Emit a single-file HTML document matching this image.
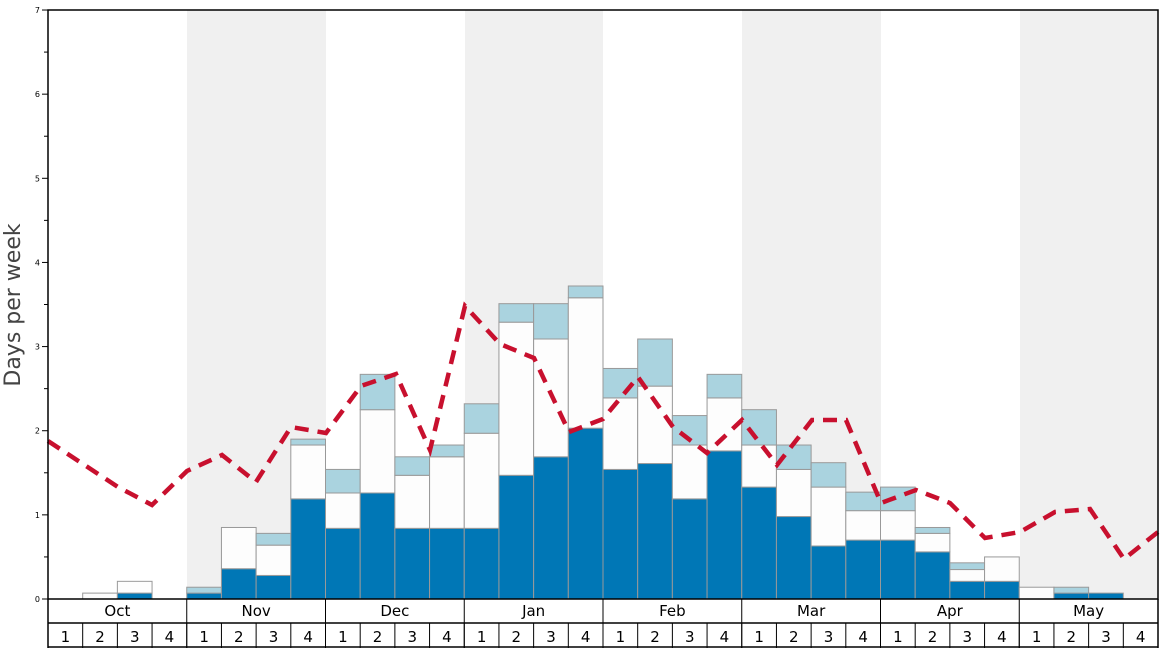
<!DOCTYPE html>
<html><head><meta charset="utf-8"><style>body{margin:0;background:#fff}svg{display:block}</style></head><body>
<svg width="1168" height="648" xmlns="http://www.w3.org/2000/svg" font-family="DejaVu Sans, Liberation Sans, sans-serif">
<rect width="1168" height="648" fill="#fff"/>
<g fill="#f0f0f0">
<rect x="187" y="10" width="139" height="589"/>
<rect x="465" y="10" width="138" height="589"/>
<rect x="742" y="10" width="139" height="589"/>
<rect x="1020" y="10" width="138" height="589"/>
</g>
<g id="bars" stroke="#999" stroke-width="1"></g>
<polyline fill="none" stroke="#c8102e" stroke-width="4.5" stroke-dasharray="14,9" points="48,441 83,464 118,487 152,505 187,471 222,455 256,482 291,427 326,433 361,386 396,374 430,450 465,306 500,344 534,358 569,432 603,419 638,377 673,427 707,453 742,420 777,465 812,420 846,420 881,503 916,490 950,503 985,538 1020,532 1055,512 1090,509 1124,559 1158,532"/>
<rect x="48" y="10" width="1110" height="589" fill="none" stroke="#000" stroke-width="1.5"/>
<g id="ticks" stroke="#000" stroke-width="1"></g>
<g id="tl" font-size="8" text-anchor="end"></g>
<text transform="translate(20,305) rotate(-90)" font-size="22" fill="#444" text-anchor="middle">Days per week</text>
<line x1="48" y1="599" x2="48" y2="648" stroke="#000" stroke-width="1.5"/>
<line x1="1158" y1="599" x2="1158" y2="648" stroke="#000" stroke-width="1.5"/>
<line x1="48" y1="623" x2="1158" y2="623" stroke="#000" stroke-width="1.5"/>
<line x1="48" y1="647" x2="1158" y2="647" stroke="#000" stroke-width="1.5"/>
<g id="axis"></g>
</svg>
<script>
const NS="http://www.w3.org/2000/svg";
function el(p,t,a,txt){const e=document.createElementNS(NS,t);for(const k in a)e.setAttribute(k,a[k]);if(txt!==undefined)e.textContent=txt;p.appendChild(e);return e;}
const X0=48,W=1110/32,Y0=599,S=84.14;
const d=[[0,0,0],[0,.07,0],[.07,.21,0],[0,0,0],[.07,0,.14],[.36,.85,0],[.28,.64,.78],[1.19,1.83,1.9],
[.84,1.26,1.54],[1.26,2.25,2.67],[.84,1.47,1.69],[.84,1.69,1.83],
[.84,1.97,2.32],[1.47,3.29,3.51],[1.69,3.09,3.51],[2.03,3.58,3.72],
[1.54,2.39,2.74],[1.61,2.53,3.09],[1.19,1.83,2.18],[1.76,2.39,2.67],
[1.33,1.83,2.25],[.98,1.54,1.83],[.63,1.33,1.62],[.70,1.05,1.27],
[.70,1.05,1.33],[.56,.78,.85],[.21,.35,.43],[.21,.5,0],
[0,.14,0],[.07,0,.14],[.07,0,0],[0,0,0]];
const g=document.getElementById('bars');
d.forEach((v,i)=>{const x=X0+i*W;let prev=0;
 const cols=["#0077b6","#fdfdfd","#aad3df"];
 for(let j=0;j<3;j++){if(v[j]>prev){const y1=Y0-v[j]*S,y0=Y0-prev*S;el(g,'rect',{x:x,y:y1,width:W,height:y0-y1,fill:cols[j]});prev=v[j];}}
});
const t=document.getElementById('ticks'),tl=document.getElementById('tl');
for(let k=0;k<=14;k++){const y=Y0-k*S/2;el(t,'line',{x1:k%2?44:42,x2:48,y1:y,y2:y});if(k%2==0)el(tl,'text',{x:40,y:y+3},k/2);}
const a=document.getElementById('axis');
const m=["Oct","Nov","Dec","Jan","Feb","Mar","Apr","May"];
for(let i=0;i<8;i++){const x=X0+i*4*W;el(a,'line',{x1:x,x2:x,y1:599,y2:648,stroke:'#000'});el(a,'text',{x:x+2*W,y:616,'font-size':15,'text-anchor':'middle'},m[i]);}
for(let i=0;i<32;i++){const x=X0+i*W;el(a,'line',{x1:x,x2:x,y1:623,y2:648,stroke:'#000'});el(a,'text',{x:x+W/2,y:642,'font-size':15,'text-anchor':'middle'},(i%4)+1);}
</script>
</body></html>
